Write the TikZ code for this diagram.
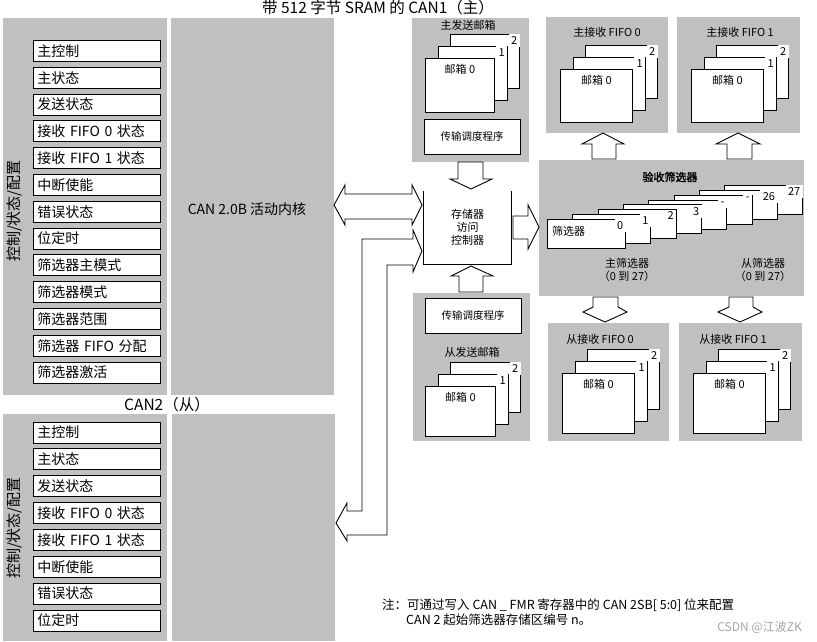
\documentclass[tikz,border=0pt]{standalone}
\usepackage{fontspec}
\setmainfont{Noto Sans CJK SC}
\newfontfamily\boldcjk[FakeBold=2]{Noto Sans CJK SC}
\usetikzlibrary{positioning, calc}
\definecolor{panelgray}{RGB}{192,192,192}
\definecolor{markgray}{RGB}{165,165,165}

% stack of three mailboxes: name, x and y of box 0 (top left), width, height
\newcommand{\mailstack}[5]{%
  \foreach \k in {2,1} {
    \node[mbox, minimum width=#4pt, minimum height=#5pt] (#1-\k) at ({#2+12.5*\k},{#3-12*\k}) {};
    \node[numlbl] (#1-n\k) at (#1-\k.north east) {\k};
  }
  \node[mbox, minimum width=#4pt, minimum height=#5pt] (#1-0) at (#2,#3) {};
  \node[smalltxt, anchor=north, yshift=-5pt] (#1-lbl) at (#1-0.north) {邮箱 0};
}

\begin{document}
\begin{tikzpicture}[x=1pt, y=-1pt,
  panel/.style={fill=panelgray},
  reg/.style={draw, fill=white, line width=0.9pt, anchor=west, minimum height=21pt, text width=119pt,
              inner xsep=4pt, inner ysep=0pt, align=left, font=\fontsize{14}{15}\selectfont},
  mbox/.style={draw, fill=white, line width=0.9pt, anchor=north west, inner sep=0pt},
  numlbl/.style={anchor=north east, fill=white, inner sep=2.5pt, font=\fontsize{11}{12}\selectfont},
  smalltxt/.style={inner sep=1pt, font=\fontsize{11}{13}\selectfont},
  sched/.style={draw, fill=white, line width=0.9pt, minimum width=96pt, minimum height=35pt, inner sep=0pt,
                font=\fontsize{10.5}{12}\selectfont},
  notetxt/.style={anchor=west, inner sep=0pt, font=\fontsize{12.5}{13}\selectfont},
  barrow/.style={draw, fill=white, line width=0.9pt, line join=miter}
]
\useasboundingbox (0,0) rectangle (817,642);

% CAN1 (master)
\node[font=\fontsize{15.5}{16}\selectfont] (title1) at (378,8) {带 512 字节 SRAM 的 CAN1（主）};
\fill[panel] (3,18) rectangle (167,395);
\fill[panel] (171,18) rectangle (334,395);
\node[rotate=90, font=\fontsize{15}{16}\selectfont] (cfg1) at (15,211) {控制/状态/配置};
\foreach \lbl [count=\i from 0] in {主控制,主状态,发送状态,接收 FIFO 0 状态,接收 FIFO 1 状态,中断使能,错误状态,位定时,筛选器主模式,筛选器模式,筛选器范围,筛选器 FIFO 分配,筛选器激活}
  \node[reg] (ra-\i) at (33,{51+26.8*\i}) {\lbl};
\node[font=\fontsize{14}{15}\selectfont] (core1) at (247,209) {CAN 2.0B 活动内核};

% CAN2 (slave)
\node[font=\fontsize{15.5}{16}\selectfont] (title2) at (167,405) {CAN2（从）};
\fill[panel] (3,414) rectangle (167,641);
\fill[panel] (172,414) rectangle (335,641);
\node[rotate=90, font=\fontsize{15}{16}\selectfont] (cfg2) at (15,528) {控制/状态/配置};
\foreach \lbl [count=\i from 0] in {主控制,主状态,发送状态,接收 FIFO 0 状态,接收 FIFO 1 状态,中断使能,错误状态,位定时}
  \node[reg] (rb-\i) at (33,{432.5+26.86*\i}) {\lbl};

% master transmit mailboxes
\fill[panel] (412,18) rectangle (529,162);
\node[smalltxt] (mtxt) at (468,25) {主发送邮箱};
\mailstack{mtx}{425}{58}{69}{54}
\node[sched] (sch1) at (472,136.5) {传输调度程序};

% master receive FIFOs
\fill[panel] (546,17) rectangle (668,133);
\node[smalltxt] (mrx0t) at (607,32) {主接收 FIFO 0};
\mailstack{mrx0}{560}{69}{72}{53}
\fill[panel] (677,17) rectangle (800,133);
\node[smalltxt] (mrx1t) at (740,32) {主接收 FIFO 1};
\mailstack{mrx1}{691}{69}{72}{53}

% memory access controller
\node[smalltxt, minimum width=87pt, minimum height=73pt, align=center] (mac) at (467.5,227.5) {存储器\\访问\\控制器};
\draw[line width=0.9pt] (mac.north west) |- (mac.south east) -- (mac.north east);

% acceptance filters
\fill[panel] (539,160) rectangle (804,296);
\node[font=\boldcjk\fontsize{11}{12}\selectfont] (acc) at (670,177) {验收筛选器};
\foreach \n/\lbl in {7/27,6/26,5/-,4/-,3/3,2/2,1/1,0/0} {
  \node[mbox, minimum width=78pt, minimum height=29pt] (flt-\n) at ({547+25.3*\n},{219-4.85*\n}) {};
  \node[numlbl] (fnum-\n) at (flt-\n.north east) {\lbl};
}
\node[smalltxt, anchor=west] (fname) at ($(flt-0.west)+(4,-2.5)$) {筛选器};
\node[smalltxt, align=center] (mflt) at (627,270) {主筛选器\\（0 到 27）};
\node[smalltxt, align=center] (sflt) at (763,270) {从筛选器\\（0 到 27）};

% slave receive FIFOs
\fill[panel] (548,323) rectangle (669,441);
\node[smalltxt] (srx0t) at (600,339) {从接收 FIFO 0};
\mailstack{srx0}{562}{373}{72}{60}
\fill[panel] (679,323) rectangle (802,441);
\node[smalltxt] (srx1t) at (733,339) {从接收 FIFO 1};
\mailstack{srx1}{693}{373}{72}{60}

% slave transmit mailboxes
\fill[panel] (413,293) rectangle (530,441);
\node[sched] (sch2) at (473,315.5) {传输调度程序};
\node[smalltxt] (stxt) at (472,352) {从发送邮箱};
\mailstack{stx}{425}{386}{70}{50}

% block arrows
\draw[barrow] (334,205) -- (345,185) -- (345,194) -- (412,194) -- (412,185) -- (422,205) -- (412,225)
  -- (412,219) -- (345,219) -- (345,225) -- cycle;
\draw[barrow] (422,251) -- (413,230) -- (413,239) -- (362,239) -- (362,511) -- (347,511) -- (347,503)
  -- (336,523) -- (347,541) -- (347,535) -- (387,535) -- (387,265) -- (413,265) -- (413,272) -- cycle;
\draw[barrow] (458,162) -- (483,162) -- (483,179) -- (492,179) -- (471,189) -- (450,179) -- (458,179) -- cycle;
\draw[barrow] (459,292) -- (459,276) -- (451,276) -- (471,266) -- (493,276) -- (483,276) -- (483,292) -- cycle;
\draw[barrow] (513,216) -- (528,216) -- (528,205) -- (539,227) -- (528,249) -- (528,239) -- (513,239) -- cycle;
\draw[barrow] (592,159) -- (592,144) -- (582,144) -- (603,133) -- (624,144) -- (616,144) -- (616,159) -- cycle;
\draw[barrow] (727,159) -- (727,144) -- (716,144) -- (738,133) -- (760,144) -- (752,144) -- (752,159) -- cycle;
\draw[barrow] (593,297) -- (593,307) -- (583,312) -- (605,322) -- (627,312) -- (618,307) -- (618,297) -- cycle;
\draw[barrow] (729,297) -- (729,307) -- (718,312) -- (740,322) -- (762,312) -- (753,307) -- (753,297) -- cycle;

% note
\node[notetxt] (note1) at (382,605) {注：可通过写入 CAN \_ FMR 寄存器中的 CAN 2SB[ 5:0] 位来配置};
\node[notetxt] (note2) at (406,620) {CAN 2 起始筛选器存储区编号 n。};
\node[anchor=east, inner sep=0pt, text=markgray, font=\fontsize{12}{13}\selectfont] (wm) at (802,627) {CSDN @江波ZK};
\end{tikzpicture}
\end{document}
